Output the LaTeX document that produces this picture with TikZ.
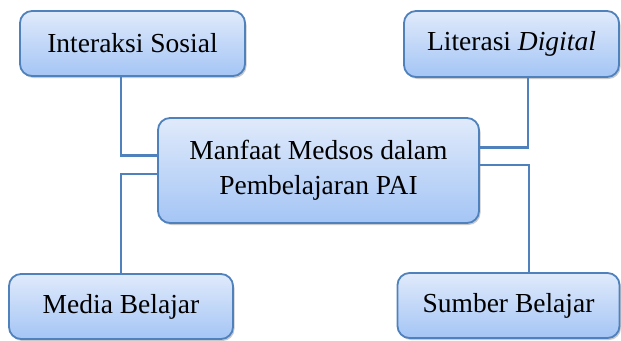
\documentclass[tikz,border=0pt]{standalone}
\usepackage{fontspec}
\setmainfont{Liberation Serif}
\usetikzlibrary{shadows}
\definecolor{boxline}{RGB}{79,129,189}
\definecolor{boxtop}{RGB}{224,234,251}
\definecolor{boxbot}{RGB}{164,197,245}
\tikzset{
  topic/.style={draw=boxline, line width=1.8pt, rounded corners=12pt,
    top color=boxtop, bottom color=boxbot,
    drop shadow={opacity=0.35, shadow xshift=1.5pt, shadow yshift=-2pt, fill=black!60},
    align=center, inner sep=0pt,
    font=\fontsize{27.5}{35}\selectfont},
  link/.style={draw=boxline, line width=2.2pt}
}
\begin{document}
\begin{tikzpicture}[x=1pt,y=-1pt]
\useasboundingbox (0,0) rectangle (621,340);
\node[topic, minimum width=225pt, minimum height=65pt] (ia) at (132.5,43.5) {Interaksi Sosial};
\node[topic, minimum width=215pt, minimum height=66pt] (li) at (511.5,44) {Literasi \textit{Digital}};
\node[topic, minimum width=321pt, minimum height=105pt] (mc) at (318.5,170.5) {Manfaat Medsos dalam\\Pembelajaran PAI};
\node[topic, minimum width=224pt, minimum height=65pt] (md) at (121,306.5) {Media Belajar};
\node[topic, minimum width=222pt, minimum height=65pt] (sb) at (508.5,305.5) {Sumber Belajar};
\draw[link] ([xshift=-11.8pt]ia.south) |- ([yshift=15pt]mc.west);
\draw[link] ([yshift=-3.5pt]mc.west) -| (md.north);
\draw[link] ([xshift=16.2pt]li.south) |- ([yshift=23pt]mc.east);
\draw[link] ([yshift=5.5pt]mc.east) -| ([xshift=20.5pt]sb.north);
\end{tikzpicture}
\end{document}
